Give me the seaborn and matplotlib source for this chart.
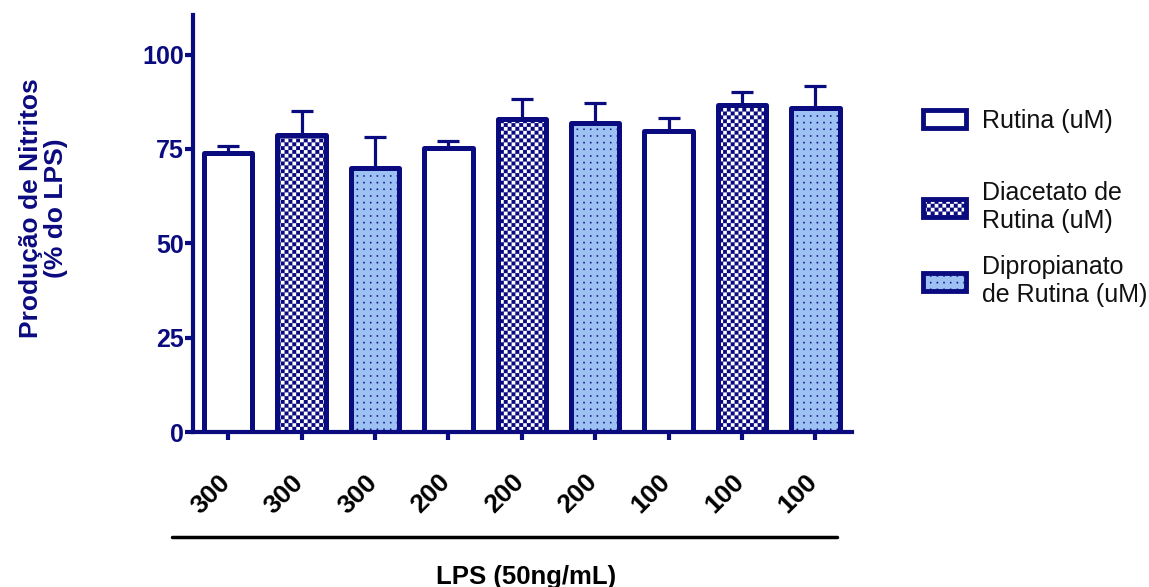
import warnings
warnings.filterwarnings("ignore")
import numpy as np
import pandas as pd
import matplotlib
matplotlib.use("Agg")
import matplotlib.pyplot as plt
import matplotlib.hatch as mhatch
from matplotlib.path import Path
from matplotlib.patches import Patch
from matplotlib.lines import Line2D
from matplotlib.transforms import ScaledTranslation
import seaborn as sns

# ---- data ----
concentrations = ["300", "300", "300", "200", "200", "200", "100", "100", "100"]
series_names = ["Rutina (uM)", "Diacetato de\nRutina (uM)", "Dipropianato\nde Rutina (uM)"]
bar_series = [0, 1, 2, 0, 1, 2, 0, 1, 2]
means = [74.0, 78.6, 69.9, 75.2, 82.9, 82.0, 79.7, 86.7, 85.8]
sems = [1.9, 6.6, 8.4, 1.9, 5.3, 5.2, 3.5, 3.4, 6.0]
yticks = [0, 25, 50, 75, 100]
ylabel = "Produção de Nitritos\n(% do LPS)"
xlabel = "LPS (50ng/mL)"

NAVY = "#0b0b80"
LIGHT = "#9dc1f3"
series_fill = ["white", "white", LIGHT]
series_hatch = [None, "c", "d"]


# ---- custom hatches: checkerboard ('c') and dot grid ('d') ----
class CheckerHatch(mhatch.HatchPatternBase):
    def __init__(self, hatch, density):
        self.n = 26 if "c" in hatch else 0
        self.num_vertices = (self.n * self.n // 2) * 5

    def set_vertices_and_codes(self, vertices, codes):
        n = self.n
        s = 1.0 / n
        parts = []
        for i in range(n):
            for j in range(n):
                if (i + j) % 2 == 0:
                    x0, y0 = i * s, j * s
                    parts.append([[x0, y0], [x0 + s, y0], [x0 + s, y0 + s], [x0, y0 + s], [x0, y0]])
        vertices[:] = np.array(parts).reshape(-1, 2)
        codes[:] = np.tile([Path.MOVETO, Path.LINETO, Path.LINETO, Path.LINETO, Path.CLOSEPOLY], len(parts))


class DotHatch(mhatch.HatchPatternBase):
    def __init__(self, hatch, density):
        self.n = 15 if "d" in hatch else 0
        self.num_vertices = self.n * self.n * 5

    def set_vertices_and_codes(self, vertices, codes):
        n = self.n
        s = 1.0 / n
        d = 0.014
        parts = []
        for i in range(n):
            for j in range(n):
                x0, y0 = i * s + s / 2, j * s + s / 2
                parts.append([[x0, y0], [x0 + d, y0], [x0 + d, y0 + d], [x0, y0 + d], [x0, y0]])
        vertices[:] = np.array(parts).reshape(-1, 2)
        codes[:] = np.tile([Path.MOVETO, Path.LINETO, Path.LINETO, Path.LINETO, Path.CLOSEPOLY], len(parts))


mhatch._hatch_types.append(CheckerHatch)
mhatch._hatch_types.append(DotHatch)

sns.set_style("ticks")
plt.rcParams["font.family"] = ["Liberation Sans", "DejaVu Sans"]
plt.rcParams["hatch.linewidth"] = 0.1
plt.rcParams["hatch.color"] = NAVY

df = pd.DataFrame({
    "pos": [str(i) for i in range(len(means))],
    "value": means,
    "series": [series_names[k] for k in bar_series],
})

fig = plt.figure(figsize=(11.49, 5.87), dpi=100)
ax = fig.add_axes([0.168, 0.264, 0.5735, 0.7104])

sns.barplot(
    data=df, x="pos", y="value", hue="series", hue_order=series_names,
    dodge=False, width=0.66, saturation=1,
    palette={series_names[k]: series_fill[k] for k in range(3)},
    edgecolor=NAVY, linewidth=3.6, legend=False, ax=ax, errorbar=None,
)

xs, tops = [], []
for k, cont in enumerate(ax.containers):
    for bar in cont:
        if series_hatch[k]:
            bar.set_hatch(series_hatch[k])
        bar.set_joinstyle("round")
        xs.append(bar.get_x() + bar.get_width() / 2)
        tops.append(bar.get_height())
order = np.argsort(xs)
xs = np.array(xs)[order]
tops = np.array(tops)[order]
ax.errorbar(xs, tops, yerr=[np.zeros(len(sems)), sems], fmt="none",
            ecolor=NAVY, elinewidth=2.3, capsize=8, capthick=2.3, zorder=0)

ax.set_ylim(0, 110.5)
ax.set_xlim(-0.48, len(means) - 0.5)
ax.set_yticks(yticks)
ax.set_yticklabels([str(t) for t in yticks], fontsize=18, fontweight="bold", color=NAVY)
ax.set_xticks(range(len(concentrations)))
ax.set_xticklabels(concentrations, fontsize=19, fontweight="bold", color="black",
                   rotation=45, ha="right", va="baseline", rotation_mode="anchor")
ax.tick_params(axis="both", direction="out", length=6, width=3, color=NAVY)
ax.tick_params(axis="x", pad=31)
ax.tick_params(axis="y", pad=0.5)
shift = ScaledTranslation(3 / 100, 0, fig.dpi_scale_trans)
for lbl in ax.get_xticklabels():
    lbl.set_transform(lbl.get_transform() + shift)
for side in ["top", "right"]:
    ax.spines[side].set_visible(False)
for side in ["left", "bottom"]:
    ax.spines[side].set_color(NAVY)
    ax.spines[side].set_linewidth(3)
ax.set_xlabel("")
ax.set_ylabel(ylabel, fontsize=19, fontweight="bold", color=NAVY, linespacing=1.05)
ax.yaxis.set_label_coords(-0.19, 0.537)

# group line and label
ax.add_line(Line2D([-0.032, 0.977], [-0.252, -0.252], transform=ax.transAxes,
                   color="black", lw=2.5, clip_on=False))
ax.text(0.505, -0.348, xlabel, transform=ax.transAxes, ha="center", va="center",
        fontsize=18.5, fontweight="bold", color="black")

handles = [Patch(facecolor=series_fill[k], edgecolor=NAVY, hatch=series_hatch[k], linewidth=3.5)
           for k in range(3)]
leg_kw = dict(frameon=False, prop={"size": 18}, handlelength=1.7, handleheight=0.72,
              handletextpad=0.64, borderaxespad=0, borderpad=0, labelcolor="#111111")
leg1 = fig.legend(handles[:1], series_names[:1], loc="center left",
                  bbox_to_anchor=(923 / 1149, 1 - 121 / 587), **leg_kw)
fig.legend(handles[1:], series_names[1:], loc="center left",
           bbox_to_anchor=(923 / 1149, 1 - 244 / 587), labelspacing=0.88, **leg_kw)

fig.savefig("out.png", dpi=100)
